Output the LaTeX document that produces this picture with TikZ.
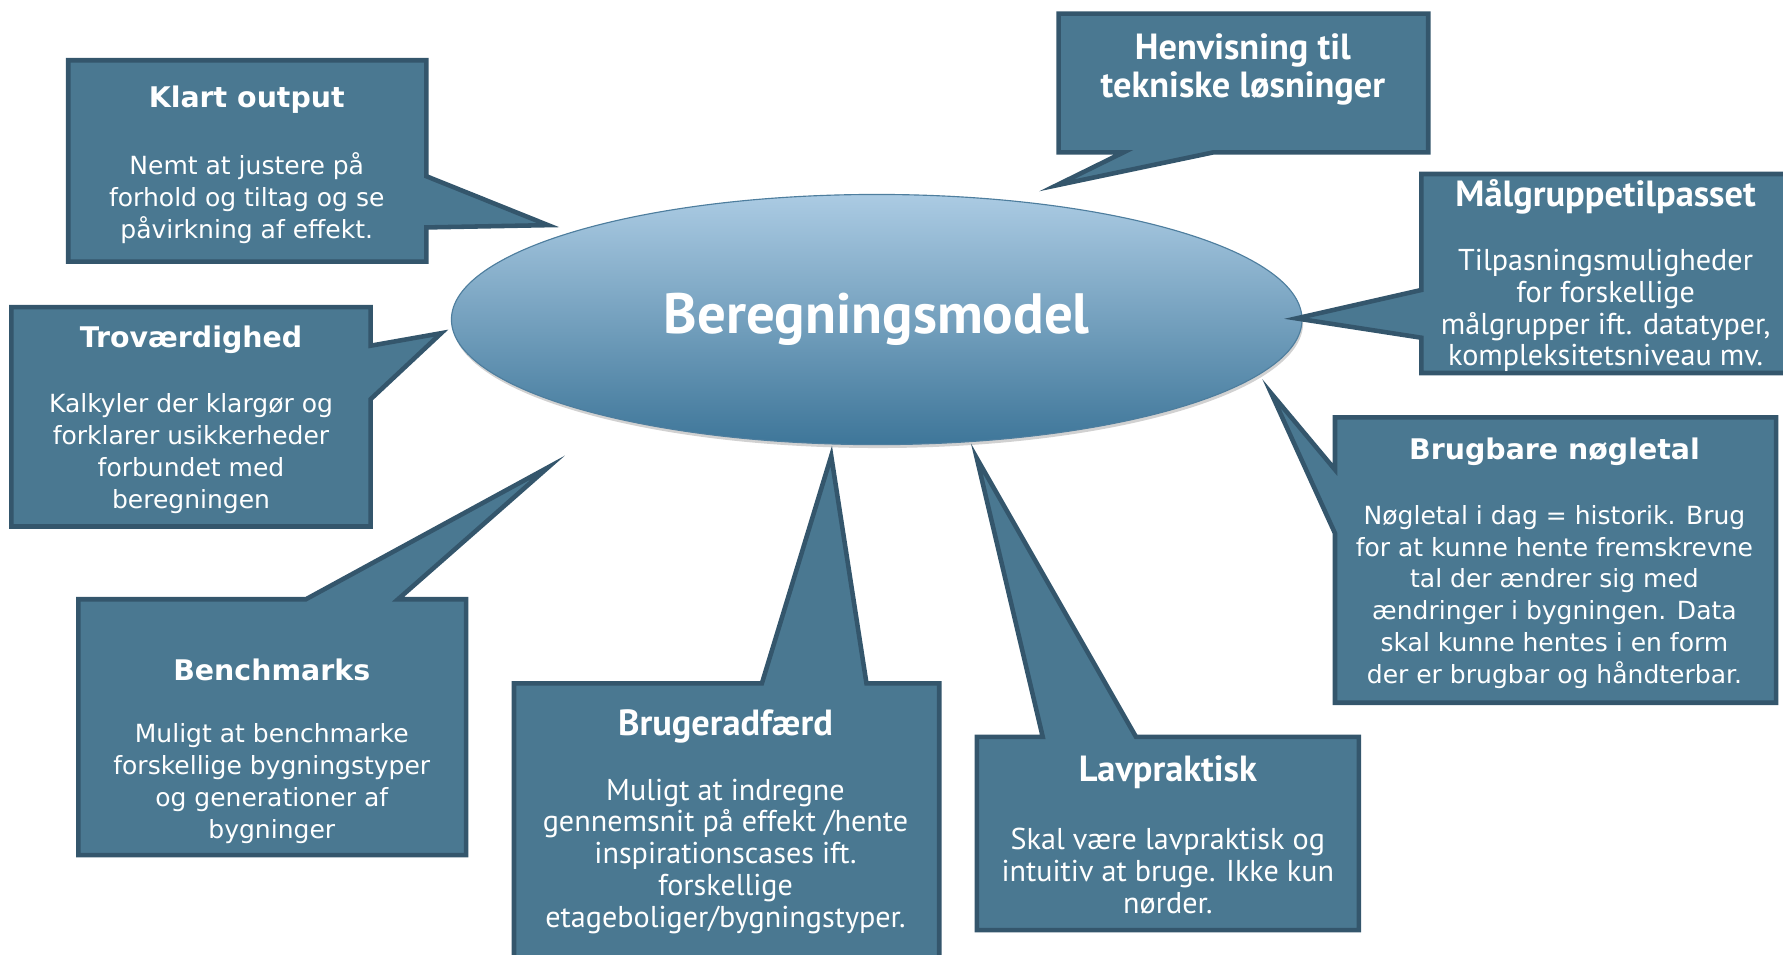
\documentclass[tikz,border=0pt]{standalone}
\usepackage{fontspec}
\setmainfont{DejaVu Sans}
\newfontfamily\narrowfont{PT Sans}
\usetikzlibrary{shapes,shadows}
\definecolor{bubblefill}{RGB}{74,120,145}
\definecolor{bubbleline}{RGB}{52,86,108}
\definecolor{modeltop}{RGB}{171,203,227}
\definecolor{modelbottom}{RGB}{62,118,153}
\definecolor{modelline}{RGB}{78,126,158}

\begin{document}
\begin{tikzpicture}[x=1pt, y=-1pt,
    bubble/.style={fill=bubblefill, draw=bubbleline, line width=4pt, line join=miter},
    bubblehead/.style={text=white, inner sep=0pt, align=center, font=\bfseries\fontsize{25}{30}\selectfont},
    bubbletext/.style={text=white, inner sep=0pt, align=center, font=\fontsize{22}{28}\selectfont},
    narrowhead/.style={text=white, inner sep=0pt, align=center, font=\narrowfont\bfseries\fontsize{32}{34}\selectfont},
    narrowtext/.style={text=white, inner sep=0pt, align=center, font=\narrowfont\fontsize{26.5}{28}\selectfont}]
%      \draw [help lines, step=100] (0,0) grid (1568,839);
      \useasboundingbox (0,0) rectangle (1568,839);

      \node [ellipse, minimum width=748pt, minimum height=220pt, top color=modeltop, bottom color=modelbottom,
             draw=modelline, line width=1pt, drop shadow={shadow xshift=1pt, shadow yshift=-3pt, fill=black!30, opacity=0.6},
             text=white, font=\narrowfont\bfseries\fontsize{50}{54}\selectfont] (model) at (771,281) {Beregningsmodel};

      % Klart output
      \draw [bubble] (60,53) -- (375,53) -- (375,155) -- (482,198) -- (375,200) -- (375,230) -- (60,230) -- cycle;
      \node [bubblehead] (klart) at (217,88) {Klart output};
      \node [bubbletext] (klart-text) at (217,174) {Nemt at justere på\\forhold og tiltag og se\\påvirkning af effekt.};

      % Trovaerdighed
      \draw [bubble] (10,270) -- (326,270) -- (326,304) -- (388,293) -- (326,351) -- (326,463) -- (10,463) -- cycle;
      \node [bubblehead] (trov) at (168,299) {Troværdighed};
      \node [bubbletext] (trov-text) at (168,399) {Kalkyler der klargør og\\forklarer usikkerheder\\forbundet med\\beregningen};

      % Benchmarks
      \draw [bubble] (69,527) -- (269,527) -- (482,411) -- (350,527) -- (410,527) -- (410,752) -- (69,752) -- cycle;
      \node [bubblehead] (bench) at (239,589) {Benchmarks};
      \node [bubbletext] (bench-text) at (239,689) {Muligt at benchmarke\\forskellige bygningstyper\\og generationer af\\bygninger};

      % Brugeradfaerd
      \draw [bubble] (452,601) -- (670,601) -- (731,401) -- (762,601) -- (826,601) -- (826,850) -- (452,850) -- cycle;
      \node [narrowhead] (adfaerd) at (638,639) {Brugeradfærd};
      \node [narrowtext] (adfaerd-text) at (638,753) {Muligt at indregne\\gennemsnit på effekt /hente\\inspirationscases ift.\\forskellige\\etageboliger/bygningstyper.};

      % Lavpraktisk
      \draw [bubble] (859,648) -- (917,648) -- (859,403) -- (999,648) -- (1195,648) -- (1195,818) -- (859,818) -- cycle;
      \node [narrowhead] (lavp) at (1027,679) {Lavpraktisk};
      \node [narrowtext] (lavp-text) at (1027,766) {Skal være lavpraktisk og\\intuitiv at bruge. Ikke kun\\nørder.};

      % Brugbare noegletal
      \draw [bubble] (1174,367) -- (1562,367) -- (1562,618) -- (1174,618) -- (1174,469) -- (1118,346) -- (1174,413) -- cycle;
      \node [bubblehead] (noegle) at (1367,397) {Brugbare nøgletal};
      \node [bubbletext] (noegle-text) at (1367,525) {Nøgletal i dag = historik. Brug\\for at kunne hente fremskrevne\\tal der ændrer sig med\\ændringer i bygningen. Data\\skal kunne hentes i en form\\der er brugbar og håndterbar.};

      % Maalgruppetilpasset
      \draw [bubble] (1250,153) -- (1580,153) -- (1580,328) -- (1250,328) -- (1250,297) -- (1140,280) -- (1250,255) -- cycle;
      \node [narrowhead] (maal) at (1412,173) {Målgruppetilpasset};
      \node [narrowtext] (maal-text) at (1412,273) {Tilpasningsmuligheder\\for forskellige\\målgrupper ift. datatyper,\\kompleksitetsniveau mv.};

      % Henvisning
      \draw [bubble] (931,12) -- (1256,12) -- (1256,134) -- (1067,134) -- (929,163) -- (988,134) -- (931,134) -- cycle;
      \node [narrowhead] (henv) at (1093,61) {Henvisning til\\tekniske løsninger};
\end{tikzpicture}
\end{document}
